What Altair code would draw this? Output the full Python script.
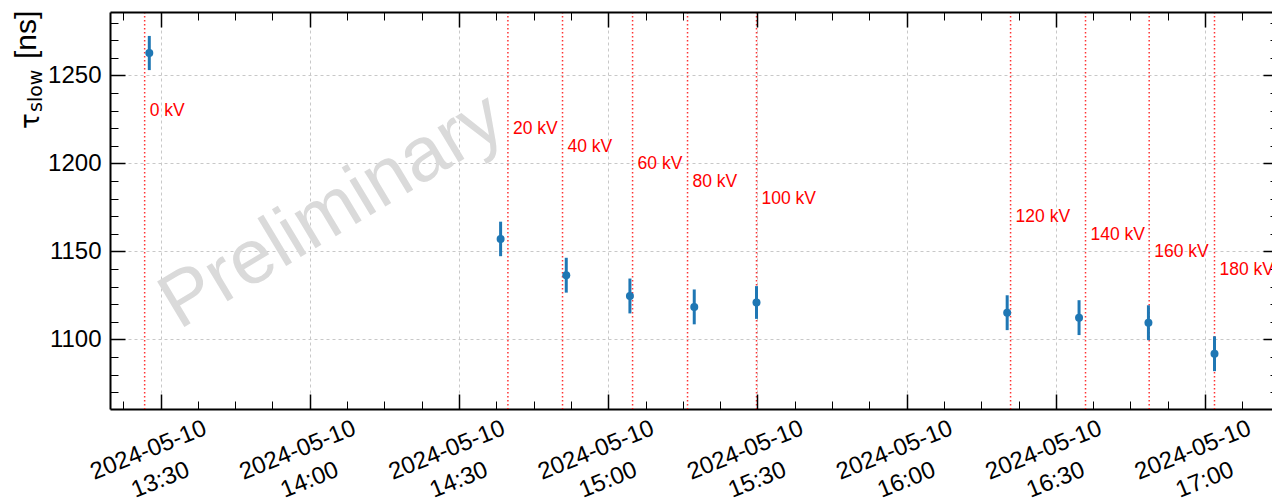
import altair as alt
import pandas as pd

# ---------------- data ----------------
point_times = ["13:27:44", "14:38:22", "14:51:34", "15:04:22", "15:17:18",
               "15:29:49", "16:20:13", "16:34:40", "16:48:37", "17:01:54"]
tau_values = [1262.7, 1157.1, 1136.5, 1124.7, 1118.5,
              1121.0, 1115.2, 1112.4, 1109.5, 1091.9]
tau_errors = [9.7, 9.8, 9.9, 9.9, 9.9, 9.3, 9.9, 9.9, 9.9, 9.9]

hv_labels = ["0 kV", "20 kV", "40 kV", "60 kV", "80 kV",
             "100 kV", "120 kV", "140 kV", "160 kV", "180 kV"]
hv_times = ["13:26:48", "14:39:50", "14:50:49", "15:04:54", "15:15:57",
            "15:29:49", "16:20:54", "16:35:58", "16:48:46", "17:01:54"]
hv_label_y = [1229.5, 1219.5, 1209.5, 1199.5, 1189.5,
              1179.5, 1169.5, 1159.5, 1149.5, 1139.5]

x_major_ticks = ["13:30:00", "14:00:00", "14:30:00", "15:00:00",
                 "15:30:00", "16:00:00", "16:30:00", "17:00:00"]
x_minor_ticks = ["13:22:30", "13:37:30", "13:45:00", "13:52:30",
                 "14:07:30", "14:15:00", "14:22:30", "14:37:30", "14:45:00", "14:52:30",
                 "15:07:30", "15:15:00", "15:22:30", "15:37:30", "15:45:00", "15:52:30",
                 "16:07:30", "16:15:00", "16:22:30", "16:37:30", "16:45:00", "16:52:30",
                 "17:07:30"]
y_major_ticks = [1100, 1150, 1200, 1250]
y_minor_ticks = [1070, 1080, 1090, 1110, 1120, 1130, 1140, 1160, 1170, 1180,
                 1190, 1210, 1220, 1230, 1240, 1260, 1270, 1280]

x_domain = ["13:19:50", "17:14:40"]
y_domain = [1060.5, 1286.0]

watermark_time = "14:04:30"
watermark_value = 1172.7

DAY = "2024-05-10T"


def dt(hms):
    h, m, s = (int(v) for v in hms.split(":"))
    return alt.DateTime(year=2024, month=5, date=10, hours=h, minutes=m, seconds=s)


points = pd.DataFrame({
    "time": [DAY + t for t in point_times],
    "tau": tau_values,
    "err": tau_errors,
})
points["lo"] = points["tau"] - points["err"]
points["hi"] = points["tau"] + points["err"]

lines = pd.DataFrame({
    "time": [DAY + t for t in hv_times],
    "label": hv_labels,
    "ly": hv_label_y,
})

wm = pd.DataFrame({"time": [DAY + watermark_time], "v": [watermark_value],
                   "t": ["Preliminary"]})

FONT = "Liberation Sans"
BLUE = "#1f77b4"

xs = alt.Scale(domain=[dt(x_domain[0]), dt(x_domain[1])], nice=False)
ys = alt.Scale(domain=y_domain, nice=False, zero=False)

GRID = dict(grid=True, gridColor="#c8c8c8", gridDash=[3, 3], gridWidth=1)


def tick_axis(orient, values, size, width):
    return alt.Axis(orient=orient, values=values, offset=-size, tickSize=size,
                    tickWidth=width, tickColor="black", ticks=True, labels=False,
                    domain=False, grid=False, title=None, zindex=1)


x_label_axis = alt.Axis(
    orient="bottom", values=[dt(t) for t in x_major_ticks],
    labelExpr="[timeFormat(datum.value, '%Y-%m-%d'), timeFormat(datum.value, '%H:%M')]",
    labelAngle=338, labelAlign="center", labelBaseline="top",
    labelPadding=30, labelOffset=-17, labelFontSize=24, labelFont=FONT,
    labelColor="black", labelLineHeight=32, labelOverlap=False, labelFlush=False,
    ticks=False, tickSize=0, domain=True, domainColor="black", domainWidth=2,
    title=None, zindex=0, **GRID)

y_label_axis = alt.Axis(
    orient="left", values=y_major_ticks, format="d", labelFontSize=24, labelFont=FONT,
    labelColor="black", labelPadding=9, labelOverlap=False, labelFlush=False,
    ticks=False, tickSize=0, domain=True, domainColor="black", domainWidth=2,
    title=None, zindex=0, **GRID)

x_top_domain = alt.Axis(orient="top", ticks=False, labels=False, grid=False,
                        domain=True, domainColor="black", domainWidth=2,
                        title=None, zindex=1)

xmaj = [dt(t) for t in x_major_ticks]
xmin = [dt(t) for t in x_minor_ticks]

axis_pairs = [
    (x_label_axis, y_label_axis),
    (tick_axis("bottom", xmaj, 15, 1.5), tick_axis("left", y_major_ticks, 15, 1.5)),
    (tick_axis("bottom", xmin, 8, 1), tick_axis("left", y_minor_ticks, 8, 1)),
    (tick_axis("top", xmaj, 15, 1.5), tick_axis("right", y_major_ticks, 15, 1.5)),
    (tick_axis("top", xmin, 8, 1), tick_axis("right", y_minor_ticks, 8, 1)),
    (x_top_domain, None),
]


def axis_layer(xa, ya):
    return alt.Chart(points).mark_point(opacity=0).encode(
        x=alt.X("time:T", scale=xs, axis=xa),
        y=alt.Y("tau:Q", scale=ys, axis=ya),
    )


watermark = alt.Chart(wm).mark_text(
    font=FONT, fontSize=77, angle=329, align="center", baseline="middle",
    color="#dadada").encode(
    x=alt.X("time:T", scale=xs, axis=None),
    y=alt.Y("v:Q", scale=ys, axis=None),
    text="t:N")

hv_rules = alt.Chart(lines).mark_rule(
    color="#ff0000", strokeWidth=1.5, strokeDash=[1.5, 2.5], opacity=0.8).encode(
    x=alt.X("time:T", scale=xs, axis=None))

hv_text = alt.Chart(lines).mark_text(
    align="left", baseline="middle", dx=5, font=FONT, fontSize=17.5,
    color="#ff0000").encode(
    x=alt.X("time:T", scale=xs, axis=None),
    y=alt.Y("ly:Q", scale=ys, axis=None),
    text="label:N")

err_bars = alt.Chart(points).mark_rule(color=BLUE, strokeWidth=3).encode(
    x=alt.X("time:T", scale=xs, axis=None),
    y=alt.Y("lo:Q", scale=ys, axis=None),
    y2="hi:Q")

dots = alt.Chart(points).mark_circle(color=BLUE, size=64, opacity=1).encode(
    x=alt.X("time:T", scale=xs, axis=None),
    y=alt.Y("tau:Q", scale=ys, axis=None))

one = pd.DataFrame({"a": [0]})
title_tau = alt.Chart(one).mark_text(
    text="τ", font="DejaVu Sans", fontSize=26, angle=270, align="left",
    baseline="alphabetic", color="black").encode(x=alt.value(-71), y=alt.value(117))
title_sub = alt.Chart(one).mark_text(
    text="slow", font="DejaVu Sans", fontSize=19, angle=270, align="left",
    baseline="alphabetic", color="black").encode(x=alt.value(-68), y=alt.value(100))
title_unit = alt.Chart(one).mark_text(
    text="[ns]", font=FONT, fontSize=30, angle=270, align="left",
    baseline="alphabetic", color="black").encode(x=alt.value(-74), y=alt.value(47))

layers = [watermark] + [axis_layer(a, b) for a, b in axis_pairs] + [
    hv_rules, hv_text, err_bars, dots, title_tau, title_sub, title_unit]

chart = alt.layer(*layers).resolve_axis(
    x="independent", y="independent"
).properties(
    width=1168, height=397,
    autosize=alt.AutoSizeParams(type="none"),
    padding={"left": 110, "top": 12, "right": -6, "bottom": 94},
    background="white",
).configure_view(stroke=None)

chart.save("out.html", embed_options={"renderer": "svg", "actions": False})
